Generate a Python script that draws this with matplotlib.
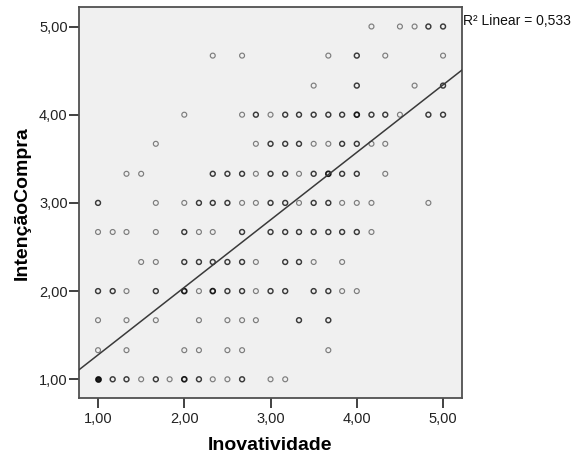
import numpy as np
from matplotlib import pyplot as plt

# Inovatividade values on each IntençãoCompra row, with how dark the point
# looks in the reference (1 = single case, 2 = several, 3 = many)
y_rows = [5.00, 4.67, 4.33, 4.00, 3.67, 3.33, 3.00, 2.67, 2.33, 2.00, 1.67, 1.33, 1.00]

x_rows = [
	[4.17, 4.50, 4.67, 4.83, 5.00],
	[2.33, 2.67, 3.67, 4.00, 4.33, 5.00],
	[3.50, 4.00, 4.67, 5.00],
	[2.00, 2.67, 2.83, 3.00, 3.17, 3.33, 3.50, 3.67, 3.83, 4.00, 4.17, 4.33, 4.50, 4.83, 5.00],
	[1.67, 2.83, 3.00, 3.17, 3.33, 3.50, 3.67, 3.83, 4.00, 4.17, 4.33],
	[1.33, 1.50, 2.33, 2.50, 2.67, 2.83, 3.00, 3.17, 3.33, 3.50, 3.67, 3.83, 4.00, 4.33],
	[1.00, 1.67, 2.00, 2.17, 2.33, 2.50, 2.67, 2.83, 3.00, 3.17, 3.33, 3.50, 3.67, 3.83, 4.00, 4.17, 4.83],
	[1.00, 1.17, 1.33, 1.67, 2.00, 2.17, 2.33, 2.67, 3.00, 3.17, 3.33, 3.50, 3.67, 3.83, 4.00, 4.17],
	[1.50, 1.67, 2.00, 2.17, 2.33, 2.50, 2.67, 2.83, 3.17, 3.33, 3.50, 3.83],
	[1.00, 1.17, 1.33, 1.67, 2.00, 2.17, 2.33, 2.50, 2.67, 2.83, 3.00, 3.17, 3.50, 3.67, 3.83, 4.00],
	[1.00, 1.33, 1.67, 2.17, 2.50, 2.67, 2.83, 3.33, 3.67],
	[1.00, 1.33, 2.00, 2.17, 2.50, 2.67, 3.67],
	[1.00, 1.17, 1.33, 1.50, 1.67, 1.83, 2.00, 2.17, 2.33, 2.50, 2.67, 3.00, 3.17],
]

weight_rows = [
	[1, 1, 1, 2, 2],
	[1, 1, 1, 2, 1, 1],
	[1, 2, 1, 2],
	[1, 1, 2, 1, 2, 2, 2, 2, 2, 3, 2, 2, 1, 2, 2],
	[1, 1, 2, 2, 2, 1, 1, 2, 2, 1, 1],
	[1, 1, 2, 2, 2, 1, 2, 2, 1, 2, 3, 2, 2, 1],
	[2, 1, 1, 2, 2, 2, 1, 1, 2, 2, 1, 2, 2, 1, 1, 1, 1],
	[1, 1, 1, 1, 2, 1, 1, 2, 2, 2, 2, 2, 2, 2, 2, 1],
	[1, 1, 2, 2, 2, 2, 2, 1, 2, 2, 1, 1],
	[2, 2, 1, 2, 3, 1, 3, 2, 2, 1, 2, 2, 2, 2, 1, 1],
	[1, 1, 1, 1, 1, 1, 1, 2, 2],
	[1, 1, 1, 1, 1, 1, 1],
	[4, 2, 2, 1, 2, 1, 3, 2, 1, 1, 2, 1, 1],
]

# fit line
fit_intercept = 0.511
fit_slope = 0.7655
r2_text = 'R² Linear = 0,533'

tick_values = [1.0, 2.0, 3.0, 4.0, 5.0]
tick_labels = ['1,00', '2,00', '3,00', '4,00', '5,00']

edge_colors = {1: '#7d7d7d', 2: '#3a3a3a', 3: '#1a1a1a', 4: '#101010'}
edge_widths = {1: 0.85, 2: 1.05, 3: 1.25, 4: 1.3}

if __name__ == '__main__':
	fig = plt.figure(figsize=(5.8, 4.61), dpi=100)
	ax = fig.add_axes([0.1357, 0.1367, 0.6609, 0.8475])
	ax.set_facecolor('#f0f0f0')

	xs, ys, ws = [], [], []
	for y, row_x, row_w in zip(y_rows, x_rows, weight_rows):
		for x, w in zip(row_x, row_w):
			xs.append(x)
			ys.append(y)
			ws.append(w)
	xs = np.array(xs)
	ys = np.array(ys)
	ws = np.array(ws)

	for w in (1, 2, 3, 4):
		sel = ws == w
		face = '#202020' if w == 4 else 'none'
		ax.scatter(xs[sel], ys[sel], s=12.5, facecolors=face,
			edgecolors=edge_colors[w], linewidths=edge_widths[w], zorder=3)

	xlim = (0.776, 5.22)
	ylim = (0.788, 5.218)
	line_x = np.array(xlim)
	ax.plot(line_x, fit_intercept + fit_slope * line_x, color='#3a3a3a', lw=1.1, zorder=4)
	ax.set_xlim(xlim)
	ax.set_ylim(ylim)

	ax.set_xticks(tick_values)
	ax.set_xticklabels(tick_labels)
	ax.set_yticks(tick_values)
	ax.set_yticklabels(tick_labels)
	ax.tick_params(axis='both', direction='out', length=7, width=1.3,
		color='#333333', labelsize=10.5, labelcolor='#222222')
	ax.tick_params(axis='x', pad=3)
	ax.tick_params(axis='y', pad=1)
	for lab in ax.get_xticklabels() + ax.get_yticklabels():
		lab.set_fontfamily('Liberation Sans')

	for spine in ax.spines.values():
		spine.set_color('#505050')
		spine.set_linewidth(1.3)

	ax.set_xlabel('Inovatividade', fontfamily='Liberation Sans', fontweight='bold',
		fontsize=14, labelpad=8)
	ax.set_ylabel('IntençãoCompra', fontfamily='Liberation Sans', fontweight='bold',
		fontsize=14, labelpad=6)

	fig.text(0.798, 0.954, r2_text, fontfamily='Liberation Sans', fontsize=10,
		va='center', ha='left', color='#111111')

	plt.savefig('out.png', dpi=100)
